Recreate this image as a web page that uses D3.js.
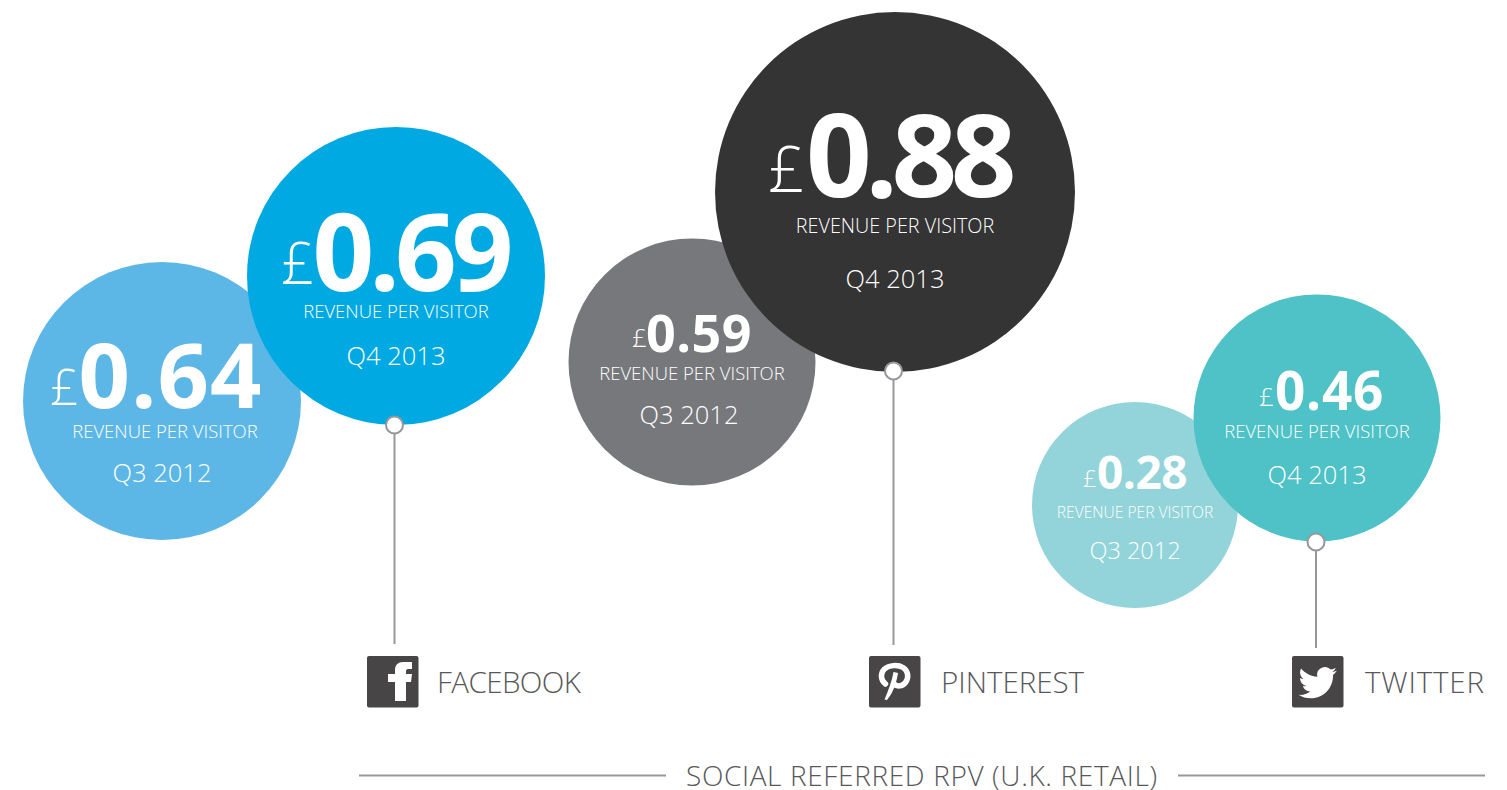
<!DOCTYPE html>
<html><head><meta charset="utf-8">
<script src="https://cdn.jsdelivr.net/npm/d3@7"></script>
<style>html,body{margin:0;background:#fff;overflow:hidden}svg{display:block}text{font-family:"Open Sans",sans-serif}</style>
</head><body><svg id="c" width="1507" height="790"></svg>
<script>
// data
const platforms = ["FACEBOOK","PINTEREST","TWITTER"];
const periods = ["Q3 2012","Q4 2013"];
const q3Values = [0.64,0.59,0.28];
const q4Values = [0.69,0.88,0.46];
const metricLabel = "REVENUE PER VISITOR";
const footerTitle = "SOCIAL REFERRED RPV (U.K. RETAIL)";
const q3Colors = ["#5db7e6","#77787b","#92d4d9"];
const q4Colors = ["#00a9e2","#343434","#4ec2c6"];

// layout
const q3Pos = [[162,401],[692,362],[1135,505]];
const q4Pos = [[396,276],[895,192],[1317,418]];
const r = d3.scaleLinear().domain([0.28,0.46,0.59,0.64,0.69,0.88]).range([103,123.5,123.5,139,149,180]);
const q3Text = [
 {pound:[50,405,50],num:[78.5,408,90,1],label:[165,438,18.5],period:[162,482,25.5]},
 {pound:[632,347,26],num:[646,352,52,0.5],label:[692,380,18.5],period:[689,424,25.5]},
 {pound:[1083,487,24],num:[1097,489,46,-0.5],label:[1135,518,15.6],period:[1135,559,23.5]}];
const q4Text = [
 {pound:[281,284,58],num:[312.5,291,108,-5],label:[396,318,18.5],period:[396,365,25.5]},
 {pound:[768,192,64],num:[806,197,115,-6.5],label:[895,233,19.8],period:[895,288,25.5]},
 {pound:[1259,406,26],num:[1275,410,53,0.8],label:[1317,438,18.5],period:[1317,484,25.5]}];
const stemX = [394.5,893.5,1316];
const stemTop = [425,371,542];
const stemBottom = [644,645,648];
const iconX = [367,869,1292];
const labelX = [437,941,1365];
const labelWidth = [144,143,119];

const svg = d3.select("#c");
const fmt = d3.format(".2f");
const grey = "#97979c";

function bubbles(vals, pos, cols){
  const g = svg.append("g");
  g.selectAll("circle").data(vals).join("circle")
    .attr("cx",(d,i)=>pos[i][0]).attr("cy",(d,i)=>pos[i][1]).attr("r",d=>r(d)).attr("fill",(d,i)=>cols[i]);
}
function labels(vals, txt, period){
  const g = svg.append("g").attr("fill","#fff");
  g.selectAll(".p").data(vals).join("text").attr("class","p").text("£")
    .attr("x",(d,i)=>txt[i].pound[0]).attr("y",(d,i)=>txt[i].pound[1]).attr("font-size",(d,i)=>txt[i].pound[2]).attr("font-weight",300);
  g.selectAll(".n").data(vals).join("text").attr("class","n").text(d=>fmt(d))
    .attr("x",(d,i)=>txt[i].num[0]).attr("y",(d,i)=>txt[i].num[1]).attr("font-size",(d,i)=>txt[i].num[2])
    .attr("letter-spacing",(d,i)=>txt[i].num[3]).attr("font-weight",700);
  g.selectAll(".l").data(vals).join("text").attr("class","l").text(metricLabel)
    .attr("x",(d,i)=>txt[i].label[0]).attr("y",(d,i)=>txt[i].label[1]).attr("font-size",(d,i)=>txt[i].label[2])
    .attr("text-anchor","middle").attr("font-weight",300);
  g.selectAll(".q").data(vals).join("text").attr("class","q").text(period)
    .attr("x",(d,i)=>txt[i].period[0]).attr("y",(d,i)=>txt[i].period[1]).attr("font-size",(d,i)=>txt[i].period[2])
    .attr("text-anchor","middle").attr("font-weight",300);
}
bubbles(q3Values,q3Pos,q3Colors);
labels(q3Values,q3Text,periods[0]);
bubbles(q4Values,q4Pos,q4Colors);
labels(q4Values,q4Text,periods[1]);

// stems
svg.append("g").selectAll("line").data(platforms).join("line")
  .attr("x1",(d,i)=>stemX[i]).attr("x2",(d,i)=>stemX[i]).attr("y1",(d,i)=>stemTop[i]).attr("y2",(d,i)=>stemBottom[i])
  .attr("stroke",grey).attr("stroke-width",2);
svg.append("g").selectAll("circle").data(platforms).join("circle")
  .attr("cx",(d,i)=>stemX[i]).attr("cy",(d,i)=>stemTop[i]).attr("r",8.5)
  .attr("fill","#fff").attr("stroke",grey).attr("stroke-width",2);

// icons
const iconG = svg.append("g").selectAll("g").data(platforms).join("g").attr("transform",(d,i)=>`translate(${iconX[i]},656)`);
iconG.append("rect").attr("width",51.5).attr("height",51.5).attr("rx",2).attr("fill","#474546");
const icons = [
 `<path fill="#fff" d="M28 45V26H21V18H28V14C28 9 31 6 36 6H45V13H41C39.500 13 39 14 39 15.500V18H45L44 26H39V45Z"/>`,
 `<path fill="none" stroke="#fff" stroke-width="5.500" stroke-linecap="round" d="M16.500 28C11 24 11.500 16.500 15.500 13C20 9 29 8.500 34 11.500C39.500 15 40 22 36.500 26.500C33.500 30.500 28 31 25 28"/><path fill="#fff" d="M24.500 16L29 17C28 24 25 36 18 44L15.500 43.500C19 35 23 25 24.500 16Z"/>`,
 `<path fill="#fff" transform="translate(6.500,7.500) scale(1.600)" d="M23.953 4.57a10 10 0 01-2.825.775 4.958 4.958 0 002.163-2.723c-.951.555-2.005.959-3.127 1.184a4.92 4.92 0 00-8.384 4.482C7.69 8.095 4.067 6.13 1.64 3.162a4.822 4.822 0 00-.666 2.475c0 1.71.87 3.213 2.188 4.096a4.904 4.904 0 01-2.228-.616v.06a4.923 4.923 0 003.946 4.827 4.996 4.996 0 01-2.212.085 4.936 4.936 0 004.604 3.417 9.867 9.867 0 01-6.102 2.105c-.39 0-.779-.023-1.17-.067a13.995 13.995 0 007.557 2.209c9.053 0 13.998-7.496 13.998-13.985 0-.21 0-.42-.015-.63A9.935 9.935 0 0024 4.59z"/>`];
iconG.each(function(d,i){ d3.select(this).append("g").html(icons[i]); });

svg.append("g").selectAll("text").data(platforms).join("text").text(d=>d)
  .attr("x",(d,i)=>labelX[i]).attr("y",693).attr("font-size",29.5).attr("font-weight",300).attr("fill","#58585a")
  .attr("textLength",(d,i)=>labelWidth[i]).attr("lengthAdjust","spacing");

// footer
svg.append("text").text(footerTitle).attr("x",686).attr("y",785.5)
  .attr("font-size",28).attr("font-weight",300).attr("fill","#58585a")
  .attr("textLength",471).attr("lengthAdjust","spacing");
svg.append("g").selectAll("line").data([[359,666],[1178,1485]]).join("line")
  .attr("x1",d=>d[0]).attr("x2",d=>d[1]).attr("y1",775.5).attr("y2",775.5).attr("stroke",grey).attr("stroke-width",2);
</script></body></html>
